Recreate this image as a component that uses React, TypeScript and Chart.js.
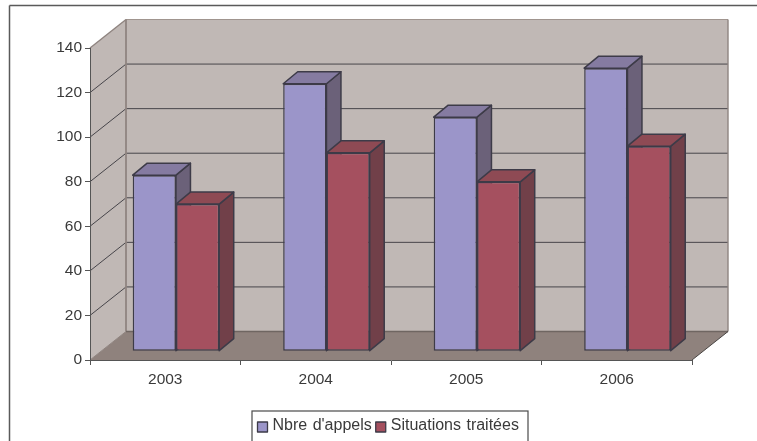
import { useEffect, useRef } from "react";
import { Chart, registerables } from "chart.js";

Chart.register(...registerables);

const years = ["2003", "2004", "2005", "2006"];
const nbreAppels = [79, 120, 105, 127];
const situationsTraitees = [66, 89, 76, 92];
const valueTicks = [0, 20, 40, 60, 80, 100, 120, 140];

const FONT = '"Liberation Sans", Arial, sans-serif';
const TEXT = "#3a3a3a";
const EDGE = "#3d3b48";

// Depth of the box behind the front plane, and of the bars standing in it.
const WALL_DX = 36;
const WALL_DY = 28.5;
const BAR_SHIFT_X = 10.7;
const BAR_SHIFT_Y = 8.8;
const BAR_DX = 14.5;
const BAR_DY = 12;

const seriesShades = [
  { front: "#9b95c9", top: "#857ba1", side: "#6b6179" },
  { front: "#a5505f", top: "#8e4a54", side: "#714049" },
];

function poly(ctx: CanvasRenderingContext2D, pts: number[][], fill: string, stroke?: string, lw = 1) {
  ctx.beginPath();
  pts.forEach(([x, y], i) => (i ? ctx.lineTo(x, y) : ctx.moveTo(x, y)));
  ctx.closePath();
  ctx.fillStyle = fill;
  ctx.fill();
  if (stroke) {
    ctx.strokeStyle = stroke;
    ctx.lineWidth = lw;
    ctx.lineJoin = "round";
    ctx.stroke();
  }
}

function line(ctx: CanvasRenderingContext2D, x1: number, y1: number, x2: number, y2: number, color: string, lw = 1) {
  ctx.beginPath();
  ctx.moveTo(x1, y1);
  ctx.lineTo(x2, y2);
  ctx.strokeStyle = color;
  ctx.lineWidth = lw;
  ctx.stroke();
}

// Frame, walls, floor and grid of the box.
const boxPlugin = {
  id: "box3d",
  beforeDraw(chart: any) {
    const { ctx, chartArea, scales } = chart;
    const { left, right, top, bottom } = chartArea;
    const y = scales.y;
    const dx = WALL_DX;
    const dy = WALL_DY;
    ctx.save();
    ctx.fillStyle = "#ffffff";
    ctx.fillRect(0, 0, chart.width, chart.height);
    line(ctx, 9.5, 5.5, 757, 5.5, "#5a5a5a", 1.5);
    line(ctx, 9.5, 5.5, 9.5, 441, "#5a5a5a", 1.5);

    const wall = "#c0b8b5";
    const wallEdge = "#8f8480";
    poly(ctx, [[left + dx, top - dy], [right + dx, top - dy], [right + dx, bottom - dy], [left + dx, bottom - dy]], wall);
    poly(ctx, [[left, top], [left + dx, top - dy], [left + dx, bottom - dy], [left, bottom]], wall);
    poly(ctx, [[left, bottom], [left + dx, bottom - dy], [right + dx, bottom - dy], [right, bottom]], "#8f827d");

    valueTicks.slice(1, -1).forEach((v) => {
      const py = y.getPixelForValue(v);
      line(ctx, left, py, left + dx, py - dy, "#47454a", 1);
      line(ctx, left + dx, py - dy, right + dx, py - dy, "#47454a", 1);
    });
    line(ctx, left + dx, top - dy, right + dx, top - dy, "#a0958f", 1.2);
    line(ctx, left, top, left + dx, top - dy, wallEdge, 1.4);
    line(ctx, left + dx, top - dy, left + dx, bottom - dy, wallEdge, 1.8);
    line(ctx, right + dx, top - dy, right + dx, bottom - dy, wallEdge, 1.4);
    line(ctx, left + dx, bottom - dy, right + dx, bottom - dy, "#6f6662", 1.4);
    line(ctx, left, bottom, left + dx, bottom - dy, wallEdge, 1);
    line(ctx, right, bottom, right + dx, bottom - dy, "#4a4644", 1);
    ctx.restore();
  },
  // Bars stand inside the box: draw the series left to right in a shifted plane,
  // each bar's top and side faces first, so a later front face covers them.
  beforeDatasetsDraw(chart: any) {
    const { ctx } = chart;
    chart.getSortedVisibleDatasetMetas().forEach((meta: any) => {
      ctx.save();
      ctx.translate(BAR_SHIFT_X, -BAR_SHIFT_Y);
      const shade = seriesShades[meta.index];
      meta.data.forEach((bar: any) => {
        const l = bar.x - bar.width / 2;
        const r = bar.x + bar.width / 2;
        poly(ctx, [[r, bar.y], [r + BAR_DX, bar.y - BAR_DY], [r + BAR_DX, bar.base - BAR_DY], [r, bar.base]], shade.side, EDGE, 1.5);
        poly(ctx, [[l, bar.y], [l + BAR_DX, bar.y - BAR_DY], [r + BAR_DX, bar.y - BAR_DY], [r, bar.y]], shade.top, EDGE, 1.5);
      });
      meta.controller.draw();
      ctx.restore();
    });
    return false;
  },
  // Boxed legend under the axis, built from the dataset labels.
  afterDraw(chart: any) {
    const { ctx } = chart;
    ctx.save();
    ctx.strokeStyle = "#4a4a4a";
    ctx.lineWidth = 1.2;
    ctx.strokeRect(252, 411, 276, 31);
    ctx.font = `16px ${FONT}`;
    (ctx as any).wordSpacing = "1px";
    ctx.textBaseline = "middle";
    let x = 257.5;
    chart.data.datasets.forEach((ds: any) => {
      poly(ctx, [[x, 422], [x + 10, 422], [x + 10, 432], [x, 432]], ds.backgroundColor, EDGE, 1.3);
      ctx.fillStyle = TEXT;
      ctx.fillText(ds.label, x + 15, 426);
      x += 15 + ctx.measureText(ds.label).width + 4;
    });
    ctx.restore();
  },
};

export default function App() {
  const ref = useRef<HTMLCanvasElement>(null);

  useEffect(() => {
    const chart = new Chart(ref.current!, {
      type: "bar",
      data: {
        labels: years,
        datasets: [
          {
            label: "Nbre d'appels",
            data: nbreAppels,
            backgroundColor: seriesShades[0].front,
            borderColor: EDGE,
            borderWidth: 1.5,
            borderSkipped: false,
          },
          {
            label: "Situations traitées",
            data: situationsTraitees,
            backgroundColor: seriesShades[1].front,
            borderColor: EDGE,
            borderWidth: 1.5,
            borderSkipped: false,
          },
        ] as any,
      },
      options: {
        animation: false,
        responsive: false,
        maintainAspectRatio: false,
        layout: { padding: { left: 40, top: 48, right: 65, bottom: 41 } },
        plugins: { legend: { display: false }, tooltip: { enabled: false } },
        datasets: { bar: { barPercentage: 1, categoryPercentage: 0.575 } },
        scales: {
          x: {
            afterFit: (s: any) => {
              s.height = 40;
            },
            grid: { drawOnChartArea: false, tickLength: 5, tickColor: "#555555" },
            border: { color: "#555555", width: 1 },
            ticks: { color: TEXT, padding: 5, font: { family: FONT, size: 15.5 } },
          },
          y: {
            min: 0,
            max: 140,
            afterFit: (s: any) => {
              s.width = 50;
            },
            grid: { drawOnChartArea: false, tickLength: 5, tickColor: "#555555" },
            border: { color: "#555555", width: 1 },
            ticks: { stepSize: 20, color: TEXT, padding: 3, font: { family: FONT, size: 15.5 } },
          },
        },
      },
      plugins: [boxPlugin],
    } as any);
    return () => chart.destroy();
  }, []);

  return (
    <div style={{ position: "absolute", left: 0, top: 0, width: 757, height: 441, overflow: "hidden" }}>
      <canvas ref={ref} width={757} height={441} style={{ display: "block" }} />
    </div>
  );
}
